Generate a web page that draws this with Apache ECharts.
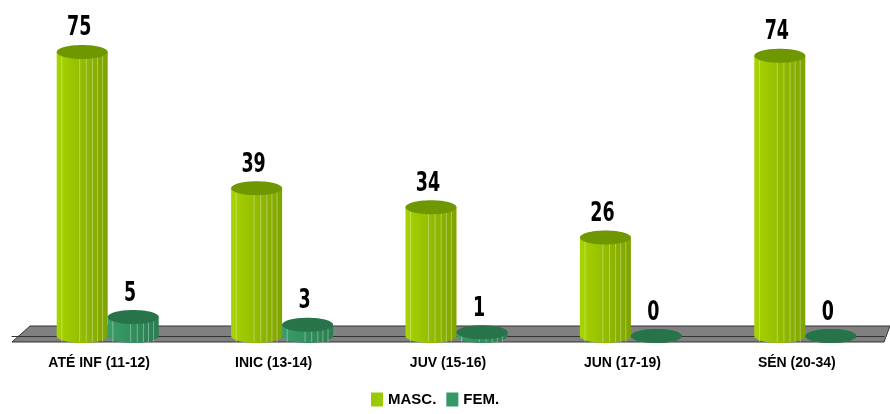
<!DOCTYPE html>
<html>
<head>
<meta charset="utf-8">
<script src="https://cdn.jsdelivr.net/npm/echarts@6/dist/echarts.min.js"></script>
<style>
  html, body { margin: 0; padding: 0; background: #fff; }
  #ec { width: 890px; height: 414px; }
</style>
</head>
<body>
<div id="ec"></div>
<script>
// dados
var categorias = ['ATÉ INF (11-12)', 'INIC (13-14)', 'JUV (15-16)', 'JUN (17-19)', 'SÉN (20-34)'];
var masc = [75, 39, 34, 26, 74];
var fem = [5, 3, 1, 0, 0];

var myChart = echarts.init(document.getElementById('ec'));

// cilindro "3D" desenhado com as coordenadas do eixo
function cilindro(offset, corEsq, corDir, corTopo) {
    return function (params, api) {
        var p = api.coord([api.value(0), api.value(1)]);
        var b = api.coord([api.value(0), 0]);
        var w = 51, ry = 7;
        var cx = p[0] + offset;
        var top = p[1], bottom = b[1];
        var grad = new echarts.graphic.LinearGradient(0, 0, 1, 0, [
            { offset: 0, color: corEsq },
            { offset: 1, color: corDir }
        ]);
        var kids = [
            { type: 'ellipse', shape: { cx: cx, cy: bottom, rx: w / 2, ry: ry }, style: { fill: grad } },
            { type: 'rect', shape: { x: cx - w / 2, y: top, width: w, height: bottom - top }, style: { fill: grad } }
        ];
        if (bottom - top > 2) {
            [0.1, 0.45, 0.58, 0.7, 0.8, 0.9].forEach(function (f) {
                kids.push({
                    type: 'line',
                    shape: { x1: cx - w / 2 + w * f, y1: top, x2: cx - w / 2 + w * f, y2: bottom + ry - 1 },
                    style: { stroke: 'rgba(255,255,255,0.35)', lineWidth: 1 }
                });
            });
        }
        kids.push({ type: 'ellipse', shape: { cx: cx, cy: top, rx: w / 2, ry: ry }, style: { fill: corTopo } });
        kids.push({
            type: 'text', x: cx - 3, y: top - ry - 3, scaleX: 0.72, scaleY: 1,
            style: {
                text: String(api.value(1)), fill: '#000', align: 'center', verticalAlign: 'bottom',
                font: 'bold 27px "Liberation Sans Narrow", "DejaVu Sans Condensed", sans-serif'
            }
        });
        return { type: 'group', children: kids };
    };
}

var option = {
    animation: false,
    grid: { left: 12, right: 6, top: 33, bottom: 78 },
    graphic: [{
        type: 'polygon', z: 0,
        shape: { points: [[30, 326], [890, 326], [884, 342], [12, 342]] },
        style: { fill: '#808080', stroke: '#333', lineWidth: 1 }
    }],
    legend: {
        left: 366, bottom: 2,
        itemWidth: 12, itemHeight: 14, itemGap: 10, icon: 'rect',
        textStyle: { fontFamily: '"Liberation Sans Narrow", sans-serif', fontWeight: 'bold', fontSize: 15, color: '#000' },
        data: ['MASC.', 'FEM.']
    },
    xAxis: {
        type: 'category',
        data: categorias,
        offset: 6,
        axisLine: { lineStyle: { color: '#333' } },
        axisTick: { length: 8, lineStyle: { color: '#333' } },
        axisLabel: {
            margin: 14, color: '#000', fontSize: 14, fontWeight: 'bold',
            fontFamily: '"Liberation Sans Narrow", sans-serif'
        }
    },
    yAxis: { type: 'value', min: 0, max: 80, show: false },
    series: [{
        name: 'MASC.', type: 'custom', clip: false, z: 2,
        itemStyle: { color: '#99cc00' },
        renderItem: cilindro(-17, '#a8d400', '#7fa300', '#6f9800'),
        data: masc.map(function (v, i) { return [i, v]; })
    }, {
        name: 'FEM.', type: 'custom', clip: false, z: 2,
        itemStyle: { color: '#339966' },
        renderItem: cilindro(34, '#3a9e6a', '#2a7d50', '#27734a'),
        data: fem.map(function (v, i) { return [i, v]; })
    }]
};

myChart.setOption(option);
</script>
</body>
</html>
